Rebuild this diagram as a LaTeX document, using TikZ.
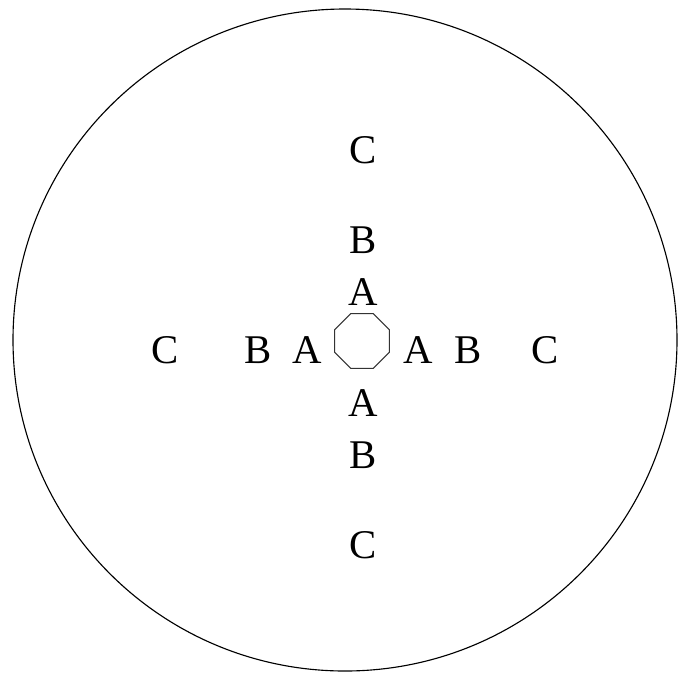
\documentclass[tikz,border=0pt]{standalone}
\usepackage{fontspec}
\setmainfont{Liberation Serif}
\usetikzlibrary{shapes.geometric}

\begin{document}
\begin{tikzpicture}[
    x=0.025cm, y=-0.025cm,
    letter/.style={font=\fontsize{29}{34}\selectfont, inner sep=0pt},
    hub/.style={regular polygon, regular polygon sides=8, draw=gray!40!black,
        line width=0.8pt, minimum size=1.48cm, inner sep=0pt},
    rim/.style={line width=0.8pt}
]
\useasboundingbox (0,0) rectangle (683,673);

% outer disc
\draw[rim] (345,340) ellipse [x radius=332, y radius=331];

% centre
\node[hub] (o) at (362,341) {};

% vertical column
\node[letter] (cN) at (363,150) {C};
\node[letter] (bN) at (363,240) {B};
\node[letter] (aN) at (363,292) {A};
\node[letter] (aS) at (363,403) {A};
\node[letter] (bS) at (363,455) {B};
\node[letter] (cS) at (363,545) {C};

% horizontal row
\node[letter] (cW) at (165,350) {C};
\node[letter] (bW) at (258,350) {B};
\node[letter] (aW) at (307,350) {A};
\node[letter] (aE) at (418,350) {A};
\node[letter] (bE) at (468,350) {B};
\node[letter] (cE) at (545,350) {C};

\end{tikzpicture}
\end{document}
